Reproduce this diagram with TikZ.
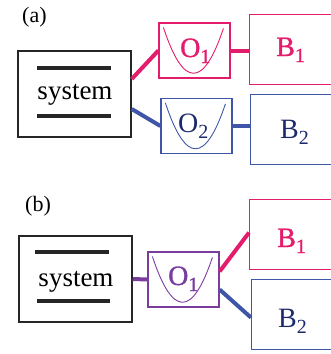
\documentclass[tikz,border=0pt]{standalone}
\usepackage{fontspec}
\setmainfont{Liberation Serif}
\newfontfamily\heavyfont[FakeBold=1.2]{Liberation Serif}
\usetikzlibrary{calc}
\definecolor{mypink}{HTML}{E31C6B}
\definecolor{myblue}{HTML}{3F56A8}
\definecolor{mynavy}{HTML}{1C2A6C}
\definecolor{mypurple}{HTML}{7A3D9E}
\newcommand\mysub[1]{\raisebox{-6pt}{\fontsize{20}{20}\selectfont #1}}
\tikzset{
  box/.style={draw, rectangle, inner sep=0pt, line width=1.2pt},
  sysbox/.style={box, draw=black!85, line width=1.5pt, minimum width=113pt, minimum height=86pt},
  obox/.style={box, minimum width=71pt, minimum height=55pt},
  bbox/.style={box, minimum width=100pt, minimum height=70pt},
  big/.style={font=\fontsize{27}{30}\selectfont, inner sep=0pt},
  sym/.style={font=\fontsize{28}{30}\selectfont, inner sep=0pt, anchor=base west},
  heavy/.style={font=\fontsize{28}{30}\heavyfont, inner sep=0pt, anchor=base west},
  lbl/.style={font=\fontsize{22}{24}\selectfont, inner sep=0pt, anchor=base west},
  bar/.style={line width=4pt, black!85},
  conn/.style={line width=4pt},
  parab/.style={line width=0.9pt},
}
\newcommand\parab[2]{% node, colour
  \draw[parab, #2] ($(#1.north west)+(5,5)$) .. controls ($(#1.north west)+(25,66)$) and ($(#1.north west)+(45,66)$) .. ($(#1.north west)+(65,6)$);}
\begin{document}
\begin{tikzpicture}[x=1pt, y=-1pt]
\useasboundingbox (0,0) rectangle (331,354);
\clip (0,0) rectangle (331,354);
% ---------- panel (a)
\node[lbl] (la) at (22,22) {(a)};
\node[sysbox] (sysa) at (74.5,94) {};
\coordinate (sa1) at (37,68); \coordinate (sa2) at (111,68);
\coordinate (sa3) at (37,116); \coordinate (sa4) at (111,116);
\draw[bar] (sa1) -- (sa2);
\draw[bar] (sa3) -- (sa4);
\node[big, anchor=base] (sysat) at (75,99) {system};

\node[obox, draw=mypink] (o1a) at (194.5,50.5) {};
\parab{o1a}{mypink}
\node[heavy, text=mypink] (o1at) at (180,57) {O\mysub{1}};
\node[obox, draw=myblue] (o2a) at (196.5,126) {};
\parab{o2a}{myblue}
\node[sym, text=mynavy] (o2at) at (178,132) {O\mysub{2}};

\node[bbox, draw=mypink, anchor=north west] (b1a) at (249,14) {};
\node[heavy, text=mypink] (b1at) at (276,56) {B\mysub{1}};
\node[bbox, draw=myblue, anchor=north west] (b2a) at (250,94) {};
\node[sym, text=mynavy] (b2at) at (280,138) {B\mysub{2}};

\draw[conn, mypink] ($(sysa.east)+(0,-15)$) -- (o1a.west);
\draw[conn, myblue] ($(sysa.east)+(0,15)$) -- (o2a.west);
\draw[conn, mypink] (o1a.east) -- (o1a.east -| b1a.west);
\draw[conn, myblue] (o2a.east) -- (o2a.east -| b2a.west);

% ---------- panel (b)
\node[lbl] (lb) at (25,211) {(b)};
\node[sysbox] (sysb) at (75.5,279) {};
\coordinate (sb1) at (35,252); \coordinate (sb2) at (109,252);
\coordinate (sb3) at (37,301); \coordinate (sb4) at (110,301);
\draw[bar] (sb1) -- (sb2);
\draw[bar] (sb3) -- (sb4);
\node[big, anchor=base] (sysbt) at (76,286) {system};

\node[obox, draw=mypurple] (o1b) at (183.5,279.5) {};
\parab{o1b}{mypurple}
\node[heavy, text=mypurple] (o1bt) at (168,285) {O\mysub{1}};

\node[bbox, draw=mypink, anchor=north west] (b1b) at (249,199) {};
\node[heavy, text=mypink] (b1bt) at (277,247) {B\mysub{1}};
\node[bbox, draw=myblue, anchor=north west] (b2b) at (251,279) {};
\node[sym, text=mynavy] (b2bt) at (278,327) {B\mysub{2}};

\draw[conn, mypurple] (sysb.east) -- (o1b.west);
\draw[conn, mypink] ($(o1b.east)+(0,-8)$) -- ($(b1b.west)+(0,-2)$);
\draw[conn, myblue] ($(o1b.east)+(0,10)$) -- ($(b2b.west)+(0,3)$);
\end{tikzpicture}
\end{document}
